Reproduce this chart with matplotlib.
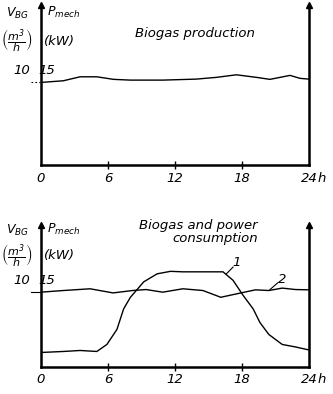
import matplotlib
matplotlib.use("Agg")
import matplotlib.pyplot as plt

plt.rcParams["font.family"] = ["DejaVu Sans"]
plt.rcParams["font.style"] = "italic"
plt.rcParams["mathtext.fontset"] = "dejavusans"

# hours of the day
hours_ticks = [0, 6, 12, 18, 24]
tick_labels = ["0", "6", "12", "18", "24"]

# biogas production (m3/h), upper chart
prod_h = [0, 2.0, 3.5, 5.0, 6.5, 8.0, 10.9, 13.9, 15.7, 17.5, 19.3, 20.5, 22.3, 23.2, 24]
prod_v = [9.96, 10.16, 10.64, 10.64, 10.33, 10.24, 10.24, 10.36, 10.57, 10.88, 10.57, 10.33, 10.81, 10.45, 10.36]

# curve 2: biogas (m3/h), lower chart
gas_h = [0, 2.0, 4.4, 6.45, 8.2, 9.4, 10.9, 12.7, 14.5, 16.1, 17.5, 19.2, 20.4, 21.6, 22.8, 24]
gas_v = [9.96, 10.18, 10.41, 9.86, 10.18, 10.31, 9.96, 10.41, 10.18, 9.28, 9.73, 10.27, 10.18, 10.5, 10.31, 10.27]

# curve 1: mechanical power consumption (kW), lower chart
pow_h = [0, 2.0, 3.5, 5.0, 5.9, 6.8, 7.4, 8.0, 9.2, 10.4, 11.6, 12.7, 15.7, 16.3, 17.2, 18.1, 19.0, 19.6, 20.4, 21.6, 22.8, 24]
pow_kw = [2.9, 3.1, 3.3, 3.1, 4.5, 7.5, 11.6, 13.9, 17.0, 18.6, 19.1, 19.0, 19.0, 19.0, 17.3, 14.3, 11.6, 8.9, 6.5, 4.5, 4.0, 3.4]

W, H = 333, 394
fig = plt.figure(figsize=(W / 100, H / 100), dpi=100)
fig.patch.set_facecolor("white")


def fx(x):
    return x / W


def fy(y):
    return 1 - y / H


def make_panel(top, bottom, ymax, dotted):
    ax = fig.add_axes([fx(41), fy(bottom), (309 - 41) / W, (bottom - top) / H])
    ax.set_xlim(0, 24)
    ax.set_ylim(0, ymax)
    for s in ("left", "right", "bottom"):
        ax.spines[s].set_linewidth(1.8)
    ax.spines["top"].set_visible(False)
    ax.set_yticks([])
    ax.set_xticks(hours_ticks[1:-1])
    ax.set_xticklabels([])
    ax.tick_params(axis="x", direction="inout", length=6, width=1.0)
    # axis arrowheads
    for xa in (0, 1):
        ax.plot([xa], [1.0], marker="^", ms=5, color="black",
                transform=ax.transAxes, clip_on=False)
    # hour labels
    for h, lab in zip(hours_ticks, tick_labels):
        ax.text(h, -0.085 * ymax, lab, ha="center", va="center", fontsize=9.5)
    ax.text(24.75, -0.085 * ymax, "h", ha="left", va="center", fontsize=9.5)
    # short reference mark at level 10 left of the axis
    ls = (0, (1.5, 2)) if dotted else "-"
    ax.plot([-0.9, -0.1], [10, 10], color="black", lw=0.8, ls=ls, clip_on=False)
    return ax


def axis_captions(y_sym, y_unit, y_level):
    fig.text(fx(17), fy(y_sym), r"$V_{BG}$", ha="center", va="center", fontsize=9)
    fig.text(fx(17), fy(y_unit), r"$\left(\dfrac{m^3}{h}\right)$", ha="center",
             va="center", fontsize=8)
    fig.text(fx(64), fy(y_sym - 1), r"$P_{mech}$", ha="center", va="center", fontsize=9)
    fig.text(fx(59), fy(y_unit), "(kW)", ha="center", va="center", fontsize=9.5)
    fig.text(fx(22), fy(y_level), "10", ha="center", va="center", fontsize=9.5)
    fig.text(fx(47), fy(y_level), "15", ha="center", va="center", fontsize=9.5)


# upper chart: biogas production
ax1 = make_panel(5, 165, 19.3, True)
ax1.plot(prod_h, prod_v, color="black", lw=1.0)
axis_captions(13, 41, 70)
fig.text(fx(195), fy(33), "Biogas production", ha="center", va="center", fontsize=9.5)

# lower chart: biogas and power consumption
ax2 = make_panel(225, 367, 18.9, False)
ax2.plot(gas_h, gas_v, color="black", lw=1.0)
ax2p = ax2.twinx()
ax2p.set_ylim(0, 18.9 * 1.5)
ax2p.axis("off")
ax2p.plot(pow_h, pow_kw, color="black", lw=1.0)
axis_captions(230, 256, 281)
fig.text(fx(258), fy(219), "Biogas and power\nconsumption", ha="right", va="top",
         fontsize=9.5, multialignment="right", linespacing=1.0)

# curve markers with leader lines
ax2.plot([16.6, 17.2], [12.4, 13.3], color="black", lw=0.8)
ax2.text(17.5, 13.9, "1", ha="center", va="center", fontsize=9.5)
ax2.plot([20.5, 21.2], [10.3, 11.2], color="black", lw=0.8)
ax2.text(21.6, 11.7, "2", ha="center", va="center", fontsize=9.5)

fig.savefig("out.png", dpi=100, facecolor="white")
